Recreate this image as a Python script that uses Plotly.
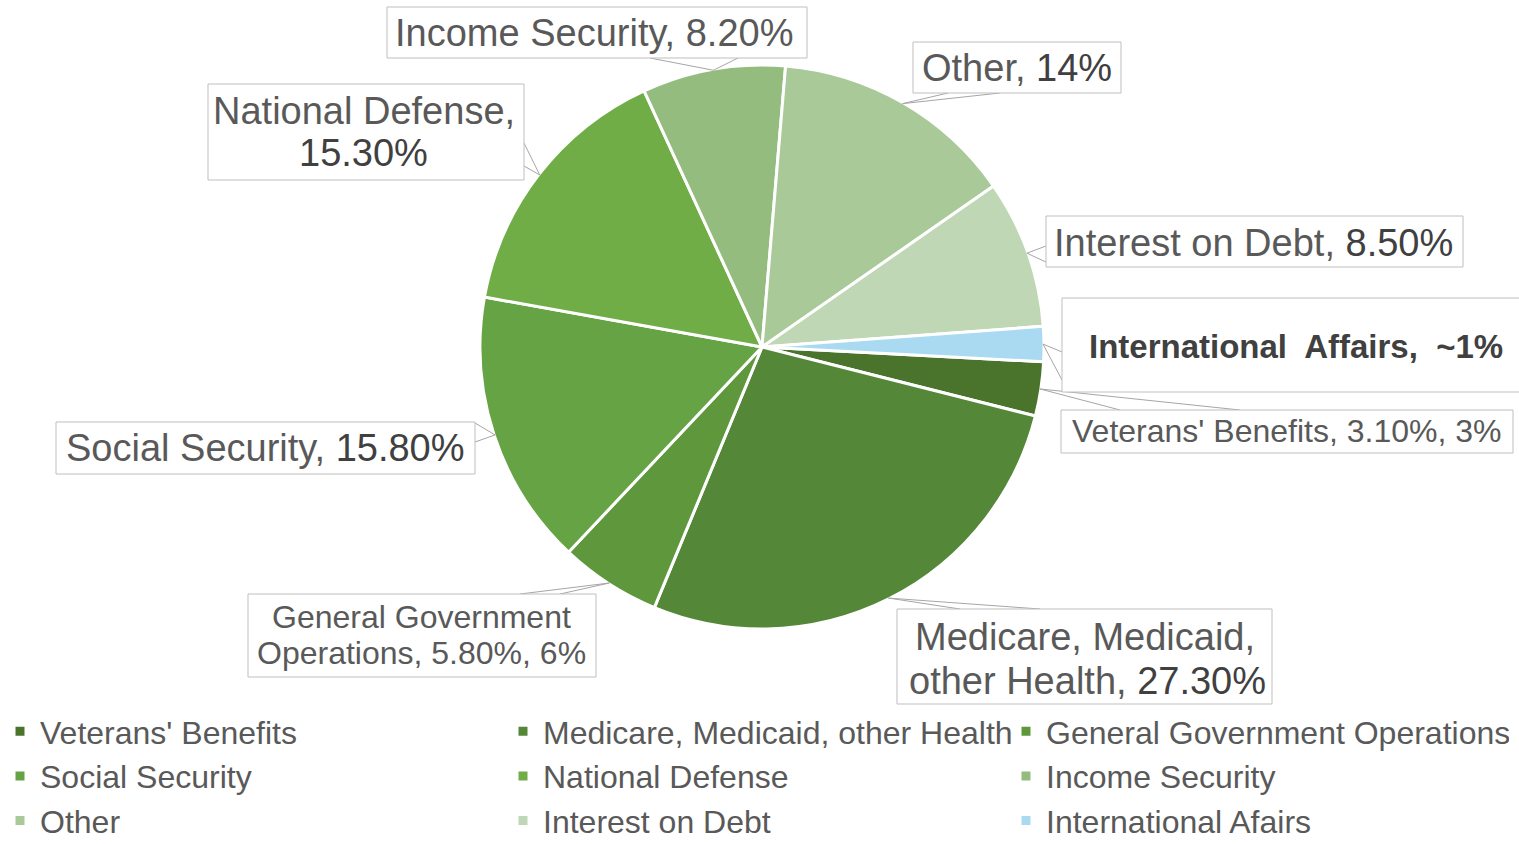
import math
import plotly.graph_objects as go

# ---------------- data ----------------
categories = ["Veterans' Benefits", "Medicare, Medicaid, other Health",
              "General Government Operations", "Social Security", "National Defense",
              "Income Security", "Other", "Interest on Debt", "International Afairs"]
shares = [3.1, 27.3, 5.8, 15.8, 15.3, 8.2, 14.0, 8.5, 2.0]
colors = ["#4A742C", "#548738", "#5E973C", "#66A344", "#70AD47",
          "#93BC7E", "#A9CA98", "#BFD7B4", "#A9DAF2"]

VAL = "#404040"
NAME = "#595959"
NB = "\u00a0"
label_lines = [
    ["Veterans' Benefits, 3.10%, 3%"],
    ["Medicare, Medicaid,", f"other Health, <span style='color:{VAL}'>27.30%</span>"],
    ["General Government", "Operations, 5.80%, 6%"],
    [f"Social Security, <span style='color:{VAL}'>15.80%</span>"],
    ["National Defense,", f"<span style='color:{VAL}'>15.30%</span>"],
    ["Income Security, 8.20%"],
    [f"Other, <span style='color:{VAL}'>14%</span>"],
    [f"Interest on Debt, <span style='color:{VAL}'>8.50%</span>"],
    [f"<b><span style='color:{VAL}'>International{NB} Affairs,{NB} ~1%</span></b>"],
]
label_sizes = [32, 38, 32, 38, 38, 38, 38, 38, 33]

# ---------------- layout constants (pixels) ----------------
W, H = 1519, 844
CX, CY, R = 762, 347, 281
R_DOMAIN = 282
ROT = 93

boxes = [(1061, 410, 1513, 453), (897, 609, 1272, 704), (248, 594, 596, 677),
         (56, 422, 475, 474), (208, 84, 524, 180), (387, 7, 807, 58),
         (913, 42, 1121, 93), (1046, 216, 1463, 267), (1062, 298, 1540, 392)]
text_pos = [[(1286, 431)], [(1085, 637), (1087, 681)], [(421, 617), (421, 653)],
            [(265, 448)], [(364, 111), (363, 153)], [(594, 33)],
            [(1017, 68)], [(1253, 243)], [(1296, 346)]]
pointer_base = [((1120, 410), (1240, 410)), ((960, 609), (1040, 609)),
                ((520, 594), (560, 594)), ((475, 423), (475, 442)),
                ((524, 143), (524, 166)), ((650, 58), (738, 58)),
                ((948, 93), (1000, 93)), ((1046, 246), (1046, 262)),
                ((1062, 352), (1062, 380))]


def px(x):
    return x / W


def py(y):
    return 1 - y / H


fig = go.Figure(go.Pie(
    labels=categories, values=shares, sort=False, direction="clockwise",
    rotation=ROT, textinfo="none", hoverinfo="label+percent",
    marker=dict(colors=colors, line=dict(color="white", width=3)),
    domain=dict(x=[px(CX - R_DOMAIN), px(CX + R_DOMAIN)],
                y=[py(CY + R_DOMAIN), py(CY - R_DOMAIN)]),
))

# slice mid angles (from data) for callout pointer tips
total = sum(shares)
mids = []
acc = ROT
for v in shares:
    a = 360.0 * v / total
    mids.append(acc + a / 2)
    acc += a

shapes = []
annotations = []
for i in range(len(categories)):
    m = math.radians(mids[i])
    tx, ty = CX + R * math.sin(m), CY - R * math.cos(m)
    (b1x, b1y), (b2x, b2y) = pointer_base[i]
    shapes.append(dict(type="path", xref="paper", yref="paper",
                       path=f"M {px(b1x)} {py(b1y)} L {px(tx)} {py(ty)} L {px(b2x)} {py(b2y)}",
                       line=dict(color="#A6A6A6", width=1), fillcolor="rgba(0,0,0,0)",
                       layer="above"))
    x0, y0, x1, y1 = boxes[i]
    shapes.append(dict(type="rect", xref="paper", yref="paper",
                       x0=px(x0), x1=px(x1), y0=py(y1), y1=py(y0),
                       line=dict(color="#BFBFBF", width=1), fillcolor="white",
                       layer="above"))
    for line, (lx, ly) in zip(label_lines[i], text_pos[i]):
        annotations.append(dict(
            text=line, xref="paper", yref="paper", x=px(lx), y=py(ly),
            xanchor="center", yanchor="middle", showarrow=False,
            font=dict(family="Liberation Sans, Arial, sans-serif",
                      size=label_sizes[i], color=NAME)))

fig.update_layout(
    width=W, height=H,
    margin=dict(l=0, r=0, t=0, b=0, autoexpand=False),
    paper_bgcolor="white", plot_bgcolor="white",
    font=dict(family="Liberation Sans, Arial, sans-serif", color=NAME),
    shapes=shapes, annotations=annotations,
    showlegend=True,
    legend=dict(orientation="h", x=0, y=py(704), xanchor="left", yanchor="top",
                entrywidth=458, entrywidthmode="pixels",
                font=dict(size=32, color=NAME,
                          family="Liberation Sans, Arial, sans-serif"),
                bgcolor="rgba(0,0,0,0)", traceorder="normal"),
)

fig.write_html("out.html", config={"displayModeBar": False},
               post_script="document.body.style.margin='0';"
                           "document.body.style.overflow='hidden';")
